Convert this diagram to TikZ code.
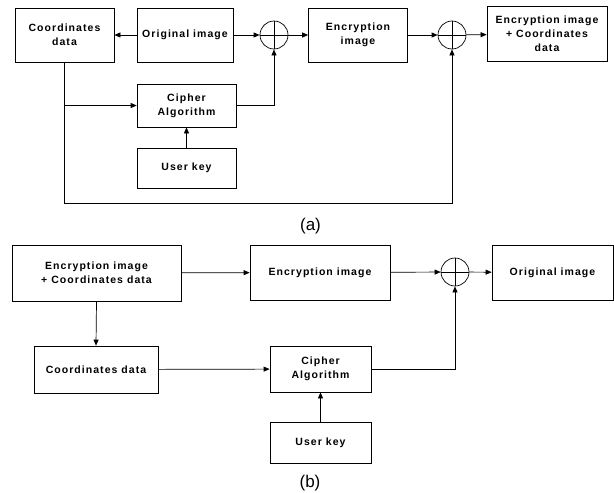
\documentclass[tikz,border=0pt]{standalone}
\usepackage{fontspec}
\newfontfamily\boxfont[LetterSpace=10]{Liberation Sans}
\newfontfamily\capfont{Liberation Sans}
\usetikzlibrary{positioning, calc, arrows.meta}

\begin{document}
\begin{tikzpicture}[x=1pt, y=-1pt, line width=0.7pt,
    >={Triangle[length=6pt,width=5pt]},
    block/.style={draw, align=center, inner sep=0pt,
        font=\boxfont\bfseries\fontsize{10.5}{14}\selectfont},
    xorsum/.style={draw, circle, minimum size=28pt, inner sep=0pt,
        path picture={\draw (path picture bounding box.north) -- (path picture bounding box.south)
            (path picture bounding box.west) -- (path picture bounding box.east);}},
    caption/.style={font=\capfont\fontsize{17}{19}\selectfont}]
                \useasboundingbox (0,0) rectangle (614,493);

                \node[block, minimum width=99pt, minimum height=54pt] (cda) at (64.5,35) {Coordinates\\data};
                \node[block, minimum width=96pt, minimum height=54pt] (orga) at (185,35) {Original image};
                \node[xorsum] (xa1) at (274,35) {};
                \node[block, minimum width=99pt, minimum height=54pt] (enca) at (358,35) {Encryption\\image};
                \node[xorsum] (xa2) at (452,35) {};
                \node[block, minimum width=120pt, minimum height=55pt] (outa) at (547,34) {Encryption image\\+ Coordinates\\data};
                \node[block, minimum width=99pt, minimum height=43pt] (ciphera) at (186.5,105.5) {Cipher\\Algorithm};
                \node[block, minimum width=99pt, minimum height=40pt] (keya) at (186.5,168) {User key};
                \node[caption] (capa) at (310.5,226) {(a)};
                \coordinate (loopa) at ($(cda.south)+(0,141)$);
                \coordinate (brancha) at (cda.south |- ciphera.west);

                \draw[->] (orga) -- (cda);
                \draw[->] (orga) -- (xa1);
                \draw[->] (xa1) -- (enca);
                \draw[->] (enca) -- (xa2);
                \draw[->] (xa2) -- (outa);
                \draw[->] (keya) -- (ciphera);
                \draw[->] (ciphera.east) -| (xa1.south);
                \draw[->] (brancha) -- (ciphera.west);
                \draw[->] (cda.south) -- (loopa) -| (xa2.south);

                \node[block, minimum width=169pt, minimum height=56pt] (inb) at (96.5,273) {Encryption image\\+ Coordinates data};
                \node[block, minimum width=140pt, minimum height=55pt] (encb) at (320,272.5) {Encryption image};
                \node[xorsum] (xb) at (455,272) {};
                \node[block, minimum width=121pt, minimum height=55pt] (outb) at (552.5,272.5) {Original image};
                \node[block, minimum width=124pt, minimum height=47pt] (cdb) at (96,369.5) {Coordinates data};
                \node[block, minimum width=101pt, minimum height=46pt] (cipherb) at (320.5,369) {Cipher\\Algorithm};
                \node[block, minimum width=101pt, minimum height=41pt] (keyb) at (320.5,442.5) {User key};
                \node[caption] (capb) at (310,483) {(b)};

                \draw[->] (inb) -- (encb);
                \draw[->] (encb) -- (xb);
                \draw[->] (xb) -- (outb);
                \draw[->] (inb.south) -- (cdb.north);
                \draw[->] (cdb) -- (cipherb);
                \draw[->] (keyb) -- (cipherb);
                \draw[->] (cipherb.east) -| (xb.south);
\end{tikzpicture}
\end{document}
